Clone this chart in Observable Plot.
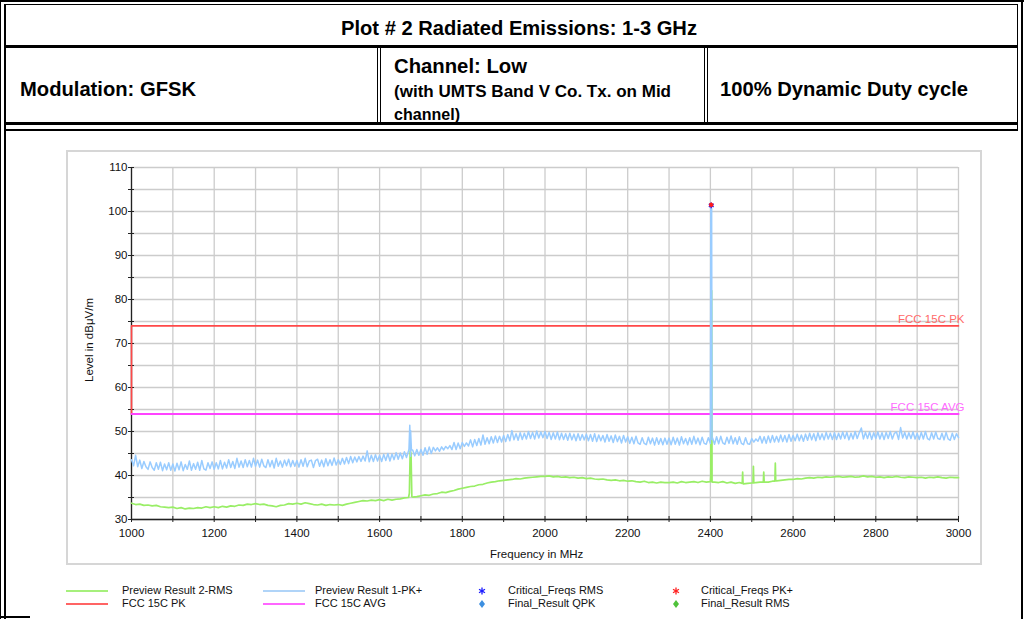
<!DOCTYPE html>
<html>
<head>
<meta charset="utf-8">
<script src="https://cdn.jsdelivr.net/npm/d3@7"></script>
<script src="https://cdn.jsdelivr.net/npm/@observablehq/plot@0.6"></script>
<style>
  html, body { margin:0; padding:0; background:#fff; }
  body { width:1024px; height:619px; position:relative; overflow:hidden; font-family:"Liberation Sans", Arial, sans-serif; }
  .ln { position:absolute; background:#000; }
  .hd { position:absolute; font-family:"Liberation Sans",Arial,sans-serif; font-weight:bold; color:#000; white-space:nowrap; line-height:1; transform-origin:0 50%; }
  #box { position:absolute; left:66px; top:150px; width:912px; height:411px; border:2px solid #d6d6d6; }
  #chart { position:absolute; left:0; top:130px; }
  .axt { position:absolute; font-size:11.5px; color:#111; white-space:nowrap; line-height:1; }
  .lg { position:absolute; font-size:11px; color:#111; white-space:nowrap; line-height:1; }
  .lgl { position:absolute; height:2px; }
</style>
</head>
<body>
<!-- header frame -->
<div class="ln" style="left:0;top:0;width:1024px;height:2px"></div>
<div class="ln" style="left:4px;top:4px;width:1014px;height:1px"></div>
<div class="ln" style="left:0;top:0;width:1px;height:619px"></div>
<div class="ln" style="left:4px;top:4px;width:2px;height:615px"></div>
<div class="ln" style="left:1017px;top:4px;width:1px;height:126px"></div>
<div class="ln" style="left:1021px;top:0;width:2px;height:619px"></div>
<div class="ln" style="left:4px;top:45px;width:1014px;height:3px"></div>
<div class="ln" style="left:377px;top:48px;width:1px;height:76px"></div>
<div class="ln" style="left:380px;top:48px;width:1px;height:76px"></div>
<div class="ln" style="left:704px;top:48px;width:1px;height:76px"></div>
<div class="ln" style="left:707px;top:48px;width:1px;height:76px"></div>
<div class="ln" style="left:4px;top:122px;width:1014px;height:3px"></div>
<div class="ln" style="left:4px;top:129px;width:1014px;height:2px"></div>
<div class="ln" style="left:0;top:616px;width:30px;height:2px"></div>

<div class="hd" data-w="356" style="left:341px;top:18px;font-size:20px">Plot # 2 Radiated Emissions: 1-3 GHz</div>
<div class="hd" data-w="176" style="left:20px;top:79px;font-size:20px">Modulation: GFSK</div>
<div class="hd" data-w="133" style="left:394px;top:56px;font-size:20px">Channel: Low</div>
<div class="hd" data-w="277" style="left:394px;top:84px;font-size:16px">(with UMTS Band V Co. Tx. on Mid</div>
<div class="hd" data-w="66" style="left:394px;top:107px;font-size:16px">channel)</div>
<div class="hd" data-w="248" style="left:720px;top:79px;font-size:20px">100% Dynamic Duty cycle</div>

<div id="box"></div>
<div id="chart"></div>
<div class="axt" style="left:490px;top:549px">Frequency in MHz</div>
<div class="axt" style="left:90px;top:340px;transform:translate(-50%,-50%) rotate(-90deg)">Level in dBμV/m</div>

<div id="legend"></div>

<script>
// ---------------- data ----------------
const freqStart = 1000;      // MHz, first sweep point
const freqStepPK = 5;        // MHz between PK+ sweep points
const freqStepRMS = 10;      // MHz between RMS sweep points

// Preview Result 1-PK+ (dBµV/m), one value per sweep point from 1000 MHz
const pkValues = [
  43.6,42.2,44.6,42.0,43.5,41.6,43.2,42.0,41.4,43.1,41.8,41.2,42.9,41.4,43.0,41.1,42.6,41.3,42.9,41.2,
  42.6,41.0,42.8,41.3,43.1,41.1,42.5,41.4,43.3,41.2,42.7,41.4,43.0,41.2,43.4,41.5,41.2,42.9,41.6,43.1,
  41.4,42.9,41.5,43.4,41.5,43.0,41.7,43.6,41.8,43.2,41.6,43.9,41.9,43.3,41.8,43.6,42.0,43.4,41.9,43.9,
  42.1,43.5,41.9,43.7,42.2,41.8,43.6,42.0,43.4,41.7,43.9,42.1,43.3,41.9,43.5,42.2,43.7,42.0,43.4,42.1,
  43.4,41.9,43.6,42.1,43.9,42.0,43.3,43.5,41.8,43.4,43.7,42.1,43.5,42.0,43.8,42.2,43.6,42.3,44.0,42.4,
  43.6,42.5,43.9,42.6,44.1,42.7,44.3,42.9,44.2,43.1,44.3,43.2,44.4,43.3,45.6,43.1,44.6,43.2,44.7,43.3,
  44.6,43.2,44.8,43.4,45.0,43.3,44.9,43.6,45.2,43.7,45.1,43.8,45.4,44.1,45.6,44.4,45.8,44.5,45.9,44.6,
  45.9,44.6,46.3,44.8,46.5,45.0,46.4,45.6,46.3,45.5,46.5,45.8,46.6,46.1,46.8,45.9,47.5,45.9,47.4,46.1,
  47.5,46.6,47.4,46.7,48.1,46.5,48.2,46.8,48.4,46.9,49.2,47.1,48.6,47.2,48.8,47.4,49.0,47.5,48.9,47.6,
  49.1,47.7,49.3,47.9,50.2,48.1,49.5,48.0,49.7,48.2,49.6,48.3,50.0,48.4,49.8,48.3,50.1,48.5,49.9,48.6,
  50.0,48.4,49.8,48.2,49.7,48.3,49.9,48.1,49.6,48.2,49.5,48.0,49.6,48.1,49.4,47.9,49.5,48.0,49.3,48.1,
  49.4,47.9,49.3,47.8,49.5,47.7,49.2,47.9,49.1,47.6,49.3,47.8,49.0,47.5,49.2,47.7,48.9,47.4,49.1,47.6,
  48.8,47.3,48.7,47.2,48.9,47.4,47.1,48.6,47.3,47.0,48.7,47.2,48.5,46.9,48.6,47.1,48.4,47.0,48.5,47.1,
  48.5,47.0,48.7,47.1,48.5,46.9,48.8,47.2,48.4,47.0,48.6,47.1,48.9,47.2,48.5,47.0,48.7,47.3,47.1,48.6,
  47.3,48.6,47.1,48.8,47.2,48.9,47.4,47.1,48.7,47.3,49.0,47.2,48.6,47.1,48.8,47.3,47.0,48.6,47.2,47.1,
  48.4,47.6,48.3,47.8,48.9,47.4,48.8,47.3,49.0,47.5,49.1,47.6,48.9,47.6,49.2,47.7,49.1,47.6,49.3,47.8,
  49.1,47.9,49.4,47.9,49.2,47.8,49.4,48.0,49.6,48.1,49.5,47.9,49.7,48.2,49.5,48.1,49.8,48.3,49.6,48.2,
  49.7,48.2,49.6,48.3,49.9,48.4,49.8,48.1,49.6,48.3,50.0,48.4,49.7,50.8,48.3,49.8,48.4,49.9,48.2,49.7,
  48.4,49.9,48.3,49.7,48.2,49.8,48.4,50.0,48.3,49.6,49.9,48.2,50.9,48.5,49.8,48.3,49.7,48.4,49.9,48.3,
  49.6,48.2,49.8,48.3,50.0,48.4,48.1,49.7,48.3,49.9,48.4,48.2,49.6,48.1,49.8,48.3,48.0,49.6,48.2,49.5,
  48.6
];
// narrow signals captured between sweep points in the PK+ trace: [MHz, dBµV/m]
const pkSignals = [
  [1671, 46.0], [1673, 51.4], [1675, 50.2], [1677, 45.8],
  [2401, 100.8], [2402, 101.0], [2403, 100.6], [2404, 48.2]
];

// Preview Result 2-RMS (dBµV/m), one value per sweep point from 1000 MHz
const rmsValues = [
  33.7,33.4,33.5,33.2,33.3,33.1,33.2,32.9,32.8,32.7,
  32.8,32.5,32.7,32.4,32.6,32.5,32.7,32.6,32.9,32.7,
  32.9,32.7,33.0,32.8,33.1,33.0,33.3,33.2,33.5,33.4,
  33.6,33.4,33.5,33.2,33.1,32.9,33.2,33.3,33.6,33.5,
  33.7,33.5,33.8,33.6,33.4,33.3,33.5,33.2,33.4,33.3,
  33.4,33.2,33.5,33.7,33.9,34.1,34.3,34.2,34.4,34.3,
  34.5,34.3,34.6,34.4,34.6,34.7,34.9,35.0,35.1,35.2,
  35.4,35.6,35.5,35.8,35.9,36.2,36.1,36.4,36.6,36.9,
  37.1,37.3,37.5,37.6,37.9,38.0,38.3,38.5,38.6,38.8,
  38.9,39.0,39.1,39.3,39.2,39.4,39.5,39.6,39.7,39.8,
  39.8,39.9,39.7,39.8,39.6,39.7,39.5,39.6,39.4,39.5,
  39.3,39.4,39.2,39.1,39.2,39.0,38.9,39.0,38.8,38.9,
  38.7,38.8,38.6,38.5,38.7,38.4,38.5,38.3,38.5,38.4,
  38.4,38.5,38.3,38.6,38.4,38.5,38.6,38.4,38.7,38.5,
  38.6,38.5,38.4,38.6,38.3,38.5,38.2,38.4,38.1,38.2,
  38.3,38.4,38.5,38.6,38.5,38.7,38.8,38.9,39.0,39.1,
  39.1,39.3,39.2,39.4,39.5,39.4,39.6,39.5,39.7,39.6,
  39.7,39.8,39.6,39.7,39.8,39.6,39.7,39.9,39.7,39.8,
  39.6,39.7,39.5,39.7,39.6,39.8,39.6,39.5,39.7,39.6,
  39.5,39.6,39.4,39.6,39.5,39.7,39.5,39.4,39.6,39.5,
  39.5
];
// narrow signals captured between sweep points in the RMS trace: [MHz, dBµV/m]
const rmsSignals = [
  [1672, 36.0], [1674, 45.6], [1676, 45.0], [1678, 35.2],
  [2401, 40.0], [2402, 82.0], [2403, 82.0], [2404, 38.5],
  [2477, 38.2], [2478, 40.8], [2479, 38.2],
  [2503, 38.3], [2504, 42.1], [2505, 38.3],
  [2528, 38.5], [2529, 40.8], [2530, 38.5],
  [2556, 38.7], [2557, 42.8], [2558, 38.8]
];

// Limit lines [MHz, dBµV/m]
const limitPK = [[1000, 54], [1000, 74], [3000, 74]];
const limitAVG = [[1000, 54], [3000, 54]];
const limitLabels = ["FCC 15C PK", "FCC 15C AVG"];

// Critical frequencies [MHz, dBµV/m]
const criticalRMS = [[2402, 101.4]];
const criticalPK = [[2402, 101.4]];

// axes
const xDomain = [1000, 3000];
const yDomain = [30, 110];
const xTicks = [1000,1100,1200,1300,1400,1500,1600,1700,1800,1900,2000,2100,2200,2300,2400,2500,2600,2700,2800,2900,3000];
const xTickLabels = [1000,1200,1400,1600,1800,2000,2200,2400,2600,2800,3000];
const yTicks = [30,35,40,45,50,55,60,65,70,75,80,85,90,95,100,105,110];
const yTickLabels = [30,40,50,60,70,80,90,100,110];

// legend
const legendItems = [
  {label: "Preview Result 2-RMS", kind: "line", color: "#a6f07c"},
  {label: "Preview Result 1-PK+", kind: "line", color: "#b0d4f8"},
  {label: "Critical_Freqs RMS", kind: "star", color: "#1a1aff"},
  {label: "Critical_Freqs PK+", kind: "star", color: "#ff2020"},
  {label: "FCC 15C PK", kind: "line", color: "#ff6464"},
  {label: "FCC 15C AVG", kind: "line", color: "#ff66ff"},
  {label: "Final_Result QPK", kind: "diamond", color: "#3d8fe0"},
  {label: "Final_Result RMS", kind: "diamond", color: "#4fc23a"}
];

// ---------------- header text fitting ----------------
document.querySelectorAll(".hd").forEach(el => {
  const target = +el.dataset.w;
  const w = el.getBoundingClientRect().width;
  if (w > 0) el.style.transform = `scaleX(${target / w})`;
});

// ---------------- build tables ----------------
const toRows = arr => arr.map(([f, v]) => ({f, v}));
const pk = pkValues.map((v, i) => ({f: freqStart + i * freqStepPK, v}))
  .concat(toRows(pkSignals)).sort((a, b) => a.f - b.f);
const rms = rmsValues.map((v, i) => ({f: freqStart + i * freqStepRMS, v}))
  .concat(toRows(rmsSignals)).sort((a, b) => a.f - b.f);

const xLab = new Set(xTickLabels), yLab = new Set(yTickLabels);
const GREEN = "#99ee66", BLUE = "#99ccff", RED = "#ff4848", MAG = "#ff44ff";

const chart = Plot.plot({
  width: 1024, height: 440,
  marginLeft: 131, marginRight: 66, marginTop: 37, marginBottom: 51,
  x: {domain: xDomain, label: null},
  y: {domain: yDomain, label: null},
  style: {fontFamily: "'Liberation Sans', Arial, sans-serif", fontSize: "11px", color: "#111", background: "transparent", overflow: "visible"},
  marks: [
    Plot.ruleX(xTicks, {stroke: "#cccccc", strokeWidth: 1.3}),
    Plot.ruleY(yTicks, {stroke: "#cccccc", strokeWidth: 1.3}),
    Plot.ruleX([xDomain[0]], {stroke: "#222", strokeWidth: 1.3}),
    Plot.ruleY([yDomain[0]], {stroke: "#222", strokeWidth: 1.3}),
    Plot.axisX({ticks: xTicks, tickSize: 6, dy: -3, tickPadding: 6, stroke: "#222", label: null,
      tickFormat: d => xLab.has(d) ? String(d) : "", fontSize: 11.5}),
    Plot.axisY({ticks: yTicks, tickSize: 6, dx: 3, tickPadding: 1, stroke: "#222", label: null,
      tickFormat: d => yLab.has(d) ? String(d) : "", fontSize: 11.5}),
    Plot.line(toRows(limitPK), {x: "f", y: "v", stroke: RED, strokeWidth: 1.6}),
    Plot.line(toRows(limitAVG), {x: "f", y: "v", stroke: MAG, strokeWidth: 2}),
    Plot.line(rms, {x: "f", y: "v", stroke: GREEN, strokeWidth: 1.7}),
    Plot.line(pk, {x: "f", y: "v", stroke: BLUE, strokeWidth: 1.5}),
    Plot.text([{f: limitPK[limitPK.length-1][0], v: limitPK[limitPK.length-1][1], t: limitLabels[0]}],
      {x: "f", y: "v", text: "t", textAnchor: "end", dx: 6, dy: -7, fill: "#ff6a6a", fontSize: 11.5}),
    Plot.text([{f: limitAVG[limitAVG.length-1][0], v: limitAVG[limitAVG.length-1][1], t: limitLabels[1]}],
      {x: "f", y: "v", text: "t", textAnchor: "end", dx: 6, dy: -7, fill: "#ff6aff", fontSize: 11.5}),
    Plot.dot(toRows(criticalRMS), {x: "f", y: "v", symbol: "asterisk", r: 2.6, stroke: "#2222ff", strokeWidth: 1.5}),
    Plot.dot(toRows(criticalPK), {x: "f", y: "v", symbol: "asterisk", r: 2.2, stroke: "#ff1a1a", strokeWidth: 1.5, dy: -0.5})
  ]
});
document.getElementById("chart").appendChild(chart);

// ---------------- legend ----------------
const lg = document.getElementById("legend");
const colX = [66, 263, 482, 676];
const textX = [122, 315, 508, 701];
const rowY = [591, 604];
legendItems.forEach((it, i) => {
  const col = i % 4, row = Math.floor(i / 4);
  const y = rowY[row];
  if (it.kind === "line") {
    const l = document.createElement("div");
    l.className = "lgl";
    l.style.left = colX[col] + "px"; l.style.top = (y - 1) + "px"; l.style.width = "42px";
    l.style.background = it.color;
    lg.appendChild(l);
  } else {
    const s = document.createElementNS("http://www.w3.org/2000/svg", "svg");
    s.setAttribute("width", 10); s.setAttribute("height", 10);
    s.style.position = "absolute"; s.style.left = (colX[col] - 5) + "px"; s.style.top = (y - 5) + "px";
    if (it.kind === "star") {
      s.innerHTML = `<g stroke="${it.color}" stroke-width="1.3"><line x1="5" y1="1.5" x2="5" y2="8.5"/><line x1="2" y1="3.2" x2="8" y2="6.8"/><line x1="2" y1="6.8" x2="8" y2="3.2"/></g>`;
    } else {
      s.innerHTML = `<path d="M5 1 L8 5 L5 9 L2 5 Z" fill="${it.color}"/>`;
    }
    lg.appendChild(s);
  }
  const t = document.createElement("div");
  t.className = "lg"; t.textContent = it.label;
  t.style.left = textX[col] + "px"; t.style.top = (y - 6) + "px";
  lg.appendChild(t);
});
</script>
</body>
</html>
